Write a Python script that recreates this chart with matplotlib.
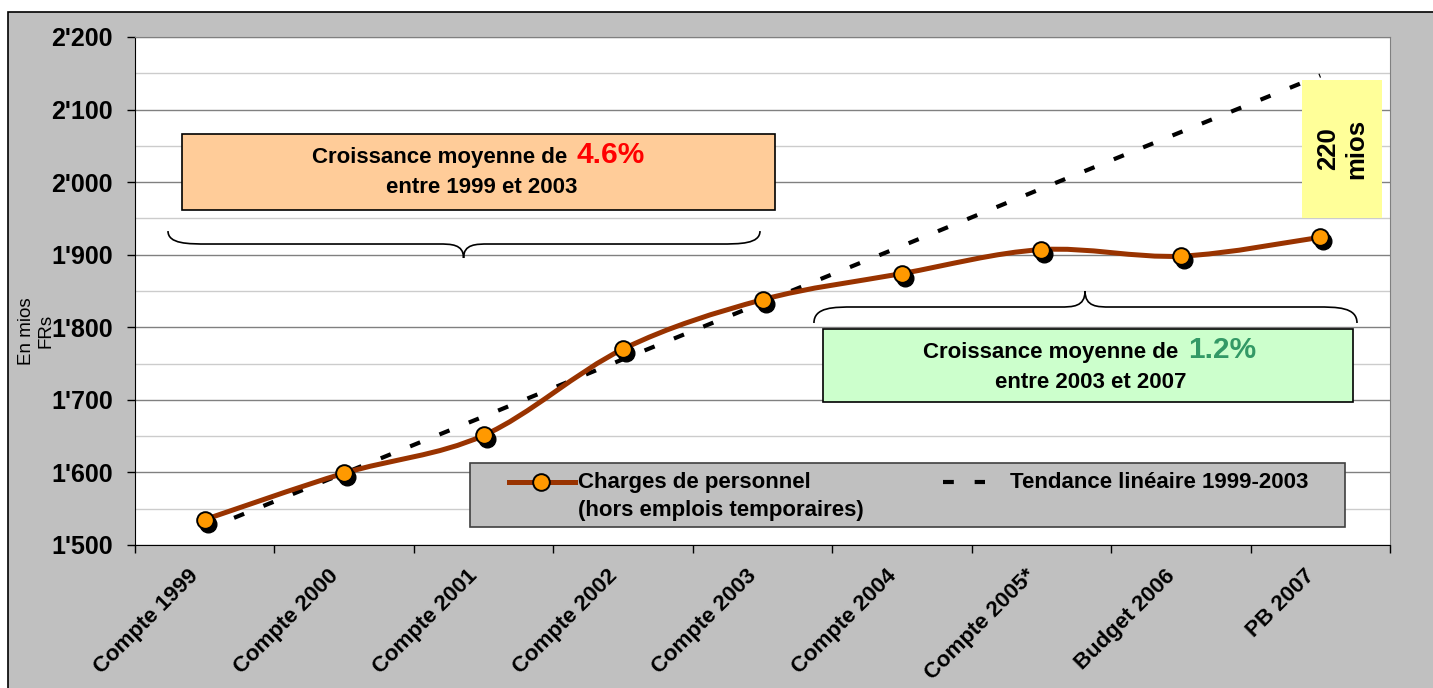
import matplotlib
matplotlib.use("Agg")
import matplotlib.pyplot as plt
import matplotlib.transforms as mtransforms
from matplotlib.patches import Rectangle, PathPatch
from matplotlib.path import Path
from matplotlib.lines import Line2D
from matplotlib.ticker import FixedLocator, FuncFormatter
import numpy as np

plt.rcParams['font.family'] = ['Liberation Sans', 'DejaVu Sans']
plt.rcParams['font.weight'] = 'bold'

# data (mios FRs)
categories = ["Compte 1999", "Compte 2000", "Compte 2001", "Compte 2002", "Compte 2003",
              "Compte 2004", "Compte 2005*", "Budget 2006", "PB 2007"]
charges = [1535, 1599, 1651, 1770, 1838, 1874, 1907, 1898, 1924]
tendance = [1521, 1599, 1677, 1756, 1834, 1912, 1991, 2069, 2147]
y_major = [1500, 1600, 1700, 1800, 1900, 2000, 2100, 2200]
y_minor = [1550, 1650, 1750, 1850, 1950, 2050, 2150]

BROWN = "#993300"
ORANGE = "#FF9900"
GRAY = "#C0C0C0"


def smooth_path(xs, ys):
    # Excel-like smoothed line: cubic bezier through every point
    pts = np.column_stack([xs, ys]).astype(float)
    verts = [pts[0]]
    codes = [Path.MOVETO]
    n = len(pts)
    for i in range(n - 1):
        p0 = pts[max(i - 1, 0)]
        p1 = pts[i]
        p2 = pts[i + 1]
        p3 = pts[min(i + 2, n - 1)]
        c1 = p1 + (p2 - p0) / 6.0
        c2 = p2 - (p3 - p1) / 6.0
        verts += [c1, c2, p2]
        codes += [Path.CURVE4] * 3
    return Path(verts, codes)


def brace(ax, x0, x1, xt, ye, yh, yt, r=0.032, r2=0.02):
    # curly brace in axes coords: ends at ye, straight part at yh, tip at yt
    verts = [(x0, ye), (x0, yh), (x0 + 0.5 * r, yh), (x0 + r, yh),
             (xt - r2, yh),
             (xt - 0.5 * r2, yh), (xt, yh), (xt, yt),
             (xt, yh), (xt + 0.5 * r2, yh), (xt + r2, yh),
             (x1 - r, yh),
             (x1 - 0.5 * r, yh), (x1, yh), (x1, ye)]
    codes = [Path.MOVETO, Path.CURVE4, Path.CURVE4, Path.CURVE4,
             Path.LINETO,
             Path.CURVE4, Path.CURVE4, Path.CURVE4,
             Path.CURVE4, Path.CURVE4, Path.CURVE4,
             Path.LINETO,
             Path.CURVE4, Path.CURVE4, Path.CURVE4]
    ax.add_patch(PathPatch(Path(verts, codes), fill=False, lw=1.2, ec="black",
                           transform=ax.transAxes, zorder=6))


fig = plt.figure(figsize=(14.33, 6.88), dpi=100, facecolor="white")
fig.add_artist(Rectangle((8 / 1433, -0.01), 1.02, 676 / 688 + 0.01, transform=fig.transFigure,
                         fc=GRAY, ec="black", lw=1.2, zorder=-10))

ax = fig.add_axes([135 / 1433, 143 / 688, 1255 / 1433, 508 / 688])
ax.set_facecolor("white")

x = np.arange(len(categories))

# trend line
ax.plot(x, tendance, color="black", lw=3, dashes=(2.6, 5.0), dash_capstyle="butt", zorder=2)

# personnel costs, smoothed
ax.add_patch(PathPatch(smooth_path(x, charges), fill=False, ec=BROWN, lw=3.6,
                       capstyle="round", joinstyle="round", zorder=3))
shadow = mtransforms.offset_copy(ax.transData, fig=fig, x=3, y=-4, units="dots")
ax.plot(x, charges, "o", ms=12, color="black", transform=shadow, zorder=4)
ax.plot(x, charges, "o", ms=12, mfc=ORANGE, mec="black", mew=1.4, zorder=5)

ax.set_xlim(-0.5, len(categories) - 0.5)
ax.set_ylim(1500, 2200)

ax.yaxis.set_major_locator(FixedLocator(y_major))
ax.yaxis.set_minor_locator(FixedLocator(y_minor))
ax.yaxis.set_major_formatter(FuncFormatter(lambda v, p: "%d'%03d" % (int(v) // 1000, int(v) % 1000)))
ax.grid(axis="y", which="major", color="#808080", lw=1.0)
ax.grid(axis="y", which="minor", color="#CCCCCC", lw=1.0)
ax.set_axisbelow(True)
ax.tick_params(axis="y", which="major", direction="out", length=6, width=1, pad=10,
               labelsize=18)
ax.tick_params(axis="y", which="minor", length=0)

ax.xaxis.set_major_locator(FixedLocator(np.arange(-0.5, len(categories), 1)))
ax.xaxis.set_major_formatter(FuncFormatter(lambda v, p: ""))
ax.xaxis.set_minor_locator(FixedLocator(x))
ax.set_xticklabels(categories, minor=True, rotation=45, ha="right", va="center",
                   rotation_mode="anchor", fontsize=16)
ax.tick_params(axis="x", which="major", direction="out", length=6, width=1)
ax.tick_params(axis="x", which="minor", length=0, pad=20)
shift = mtransforms.ScaledTranslation(-0.09, 0, fig.dpi_scale_trans)
for lab in ax.get_xticklabels(minor=True):
    lab.set_transform(lab.get_transform() + shift)

for s in ["left", "bottom"]:
    ax.spines[s].set_color("black")
for s in ["top", "right"]:
    ax.spines[s].set_color("#808080")

ax.set_ylabel("En mios\nFRs", fontsize=13.5, fontweight="normal", ha="center", va="center")
ax.yaxis.set_label_coords(-0.079, 0.421)

# growth boxes
ax.add_patch(Rectangle((0.0375, 0.659), 0.4725, 0.150, transform=ax.transAxes,
                       fc="#FFCC99", ec="black", lw=1.2, zorder=6))
ax.text(0.3442, 0.752, "Croissance moyenne de", transform=ax.transAxes, ha="right",
        va="baseline", fontsize=16, zorder=7)
ax.text(0.3514, 0.752, "4.6%", transform=ax.transAxes, ha="left", va="baseline",
        fontsize=21.5, color="#FF0000", zorder=7)
ax.text(0.2765, 0.693, "entre 1999 et 2003", transform=ax.transAxes, ha="center",
        va="baseline", fontsize=16, zorder=7)
brace(ax, 0.0263, 0.498, 0.2618, 0.618, 0.5925, 0.565)

ax.add_patch(Rectangle((0.548, 0.2815), 0.4225, 0.1435, transform=ax.transAxes,
                       fc="#CCFFCC", ec="black", lw=1.2, zorder=6))
ax.text(0.831, 0.368, "Croissance moyenne de", transform=ax.transAxes, ha="right",
        va="baseline", fontsize=16, zorder=7)
ax.text(0.839, 0.368, "1.2%", transform=ax.transAxes, ha="left", va="baseline",
        fontsize=21.5, color="#339966", zorder=7)
ax.text(0.7618, 0.309, "entre 2003 et 2007", transform=ax.transAxes, ha="center",
        va="baseline", fontsize=16, zorder=7)
brace(ax, 0.541, 0.9737, 0.757, 0.437, 0.4685, 0.50)

# gap label
ax.add_patch(Rectangle((0.930, 0.6437), 0.0636, 0.2717, transform=ax.transAxes,
                       fc="#FFFF99", ec="none", zorder=6))
ax.text(0.9618, 0.7795, "220\nmios", transform=ax.transAxes, rotation=90, ha="center",
        va="center", fontsize=18.5, zorder=7)

# legend drawn as a box
ax.add_patch(Rectangle((0.2669, 0.036), 0.6972, 0.1248, transform=ax.transAxes,
                       fc=GRAY, ec="#404040", lw=1.2, zorder=6))
ax.add_line(Line2D([0.298, 0.3506], [0.1246, 0.1246], color=BROWN, lw=3.6,
                   transform=ax.transAxes, zorder=7))
ax.add_line(Line2D([0.3235], [0.1246], marker="o", ms=12, mfc=ORANGE, mec="black", mew=1.4,
                   transform=ax.transAxes, zorder=8))
ax.text(0.353, 0.1122, "Charges de personnel", transform=ax.transAxes, ha="left",
        va="baseline", fontsize=16, zorder=8)
ax.text(0.353, 0.0571, "(hors emplois temporaires)", transform=ax.transAxes, ha="left",
        va="baseline", fontsize=16, zorder=8)
ax.add_line(Line2D([0.6438, 0.6773], [0.1246, 0.1246], color="black", lw=3,
                   dashes=(2.6, 5.0), dash_capstyle="butt", transform=ax.transAxes, zorder=7))
ax.text(0.6972, 0.1122, "Tendance linéaire 1999-2003", transform=ax.transAxes, ha="left",
        va="baseline", fontsize=16, zorder=8)

fig.savefig("out.png", dpi=100, facecolor=fig.get_facecolor())
